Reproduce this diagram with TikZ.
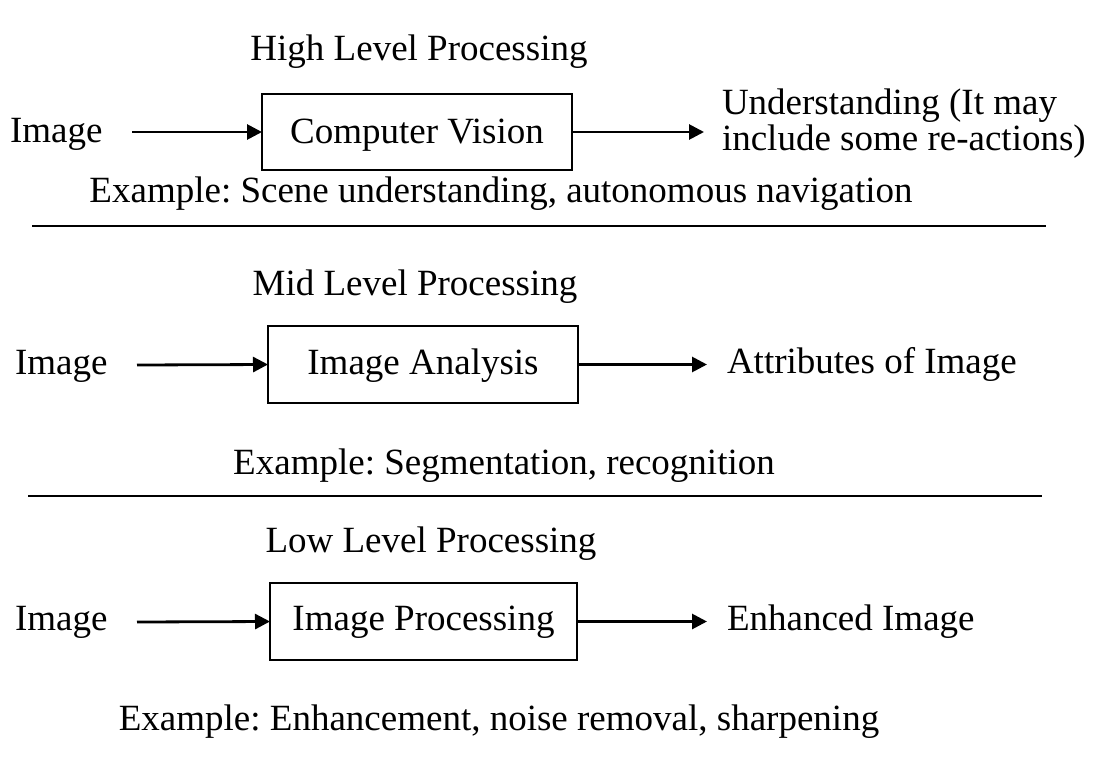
\documentclass[tikz,border=0pt]{standalone}
\usepackage{fontspec}
\setmainfont{Liberation Serif}
\frenchspacing
\usetikzlibrary{arrows.meta}
\tikzset{
  txt/.style={inner sep=0pt, outer sep=0pt, font=\fontsize{37}{41}\selectfont},
  procbox/.style={draw, line width=2pt, inner sep=0pt, outer sep=0pt},
  conn/.style={line width=2.8pt, -{Triangle[length=15pt,width=15pt]}},
  sep/.style={line width=2.4pt}
}
\begin{document}
\begin{tikzpicture}[x=1pt,y=-1pt]
\useasboundingbox (0,0) rectangle (1098,774);
% ---- High level ----
\node[txt, anchor=base] (t1) at (419,60) {High Level Processing};
\node[txt, anchor=base west] (i1) at (10,142) {Image};
\node[procbox, minimum width=310pt, minimum height=76pt] (b1) at (417,132) {};
\node[txt, anchor=base] (b1t) at (417,143) {Computer Vision};
\node[txt, anchor=west, align=left, font=\fontsize{37}{36}\selectfont] (o1) at (722,124) {Understanding (It may\\include some re-actions)};
\coordinate (i1e) at (132,132);
\draw[conn] (i1e) -- (b1.west);
\draw[conn] (b1.east) -- ([xshift=-18pt]o1.west |- b1.east);
\node[txt, anchor=base] (e1) at (501,202) {Example: Scene understanding, autonomous navigation};
\coordinate (l1a) at (32,226);
\coordinate (l1b) at (1046,226);
\draw[sep] (l1a) -- (l1b);
% ---- Mid level ----
\node[txt, anchor=base] (t2) at (415,295) {Mid Level Processing};
\node[txt, anchor=base west] (i2) at (15,374) {Image};
\node[procbox, minimum width=310pt, minimum height=77pt] (b2) at (423,364.5) {};
\node[txt, anchor=base] (b2t) at (423,374) {Image Analysis};
\node[txt, anchor=base west] (o2) at (727,373) {Attributes of Image};
\coordinate (i2e) at (137,365);
\draw[conn] (i2e) -- (b2.west);
\draw[conn] (b2.east) -- ([xshift=-20pt]o2.west |- b2.east);
\node[txt, anchor=base] (e2) at (504,474) {Example: Segmentation, recognition};
\coordinate (l2a) at (28,496);
\coordinate (l2b) at (1042,496);
\draw[sep] (l2a) -- (l2b);
% ---- Low level ----
\node[txt, anchor=base] (t3) at (431,552) {Low Level Processing};
\node[txt, anchor=base west] (i3) at (15,630) {Image};
\node[procbox, minimum width=307pt, minimum height=77pt] (b3) at (423.5,621.5) {};
\node[txt, anchor=base] (b3t) at (423.5,630) {Image Processing};
\node[txt, anchor=base west] (o3) at (727,630) {Enhanced Image};
\coordinate (i3e) at (137,622);
\draw[conn] (i3e) -- (b3.west);
\draw[conn] (b3.east) -- ([xshift=-20pt]o3.west |- b3.east);
\node[txt, anchor=base] (e3) at (499,730) {Example: Enhancement, noise removal, sharpening};
\end{tikzpicture}
\end{document}
